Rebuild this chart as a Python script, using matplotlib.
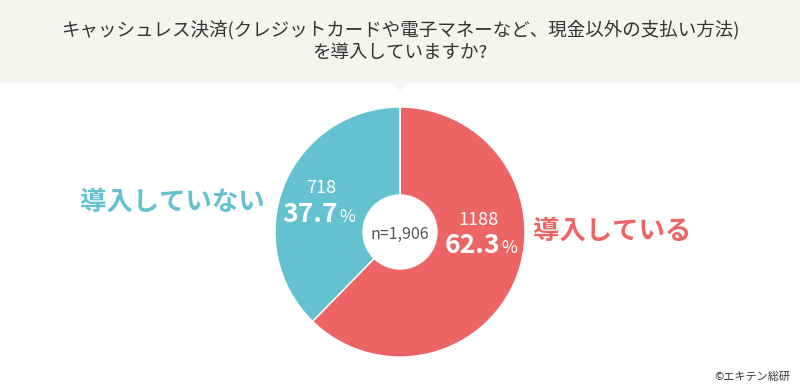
import matplotlib
matplotlib.use("Agg")
import matplotlib.pyplot as plt
from matplotlib.patches import Polygon, Rectangle, Circle

plt.rcParams['font.family'] = ['Noto Sans CJK JP', 'DejaVu Sans']

labels = ['導入している', '導入していない']
counts = [1188, 718]
shares = [62.3, 37.7]
colors = ['#ec6464', '#63c1d0']
total = 1906
title = 'キャッシュレス決済(クレジットカードや電子マネーなど、現金以外の支払い方法)\nを導入していますか?'

fig = plt.figure(figsize=(8, 3.86), dpi=100)
ax = fig.add_axes([0, 0, 1, 1])

# donut (y axis is flipped below, so angles run mirrored)
ax.pie(counts, colors=colors, startangle=-90, counterclock=True, center=(400, 232), radius=125,
       wedgeprops=dict(edgecolor='white', linewidth=1), frame=True)
ax.set_xlim(0, 800)
ax.set_ylim(386, 0)
ax.set_aspect('auto')
ax.axis('off')

# header band with small pointer
ax.add_patch(Rectangle((0, 0), 800, 82, color='#f5f4f1', zorder=0))
ax.add_patch(Polygon([(393, 82), (407, 82), (400, 90)], closed=True, color='#f5f4f1', zorder=0))
ax.text(400, 41, title, ha='center', va='center', fontsize=13.3, color='#333333', linespacing=1.35)

ax.add_patch(Circle((400, 232), 37, color='white', zorder=5))
ax.text(400, 234, f'n={total:,}', ha='center', va='center', fontsize=11.5, color='#555555', zorder=6)

# inside labels
ax.text(479, 220, str(counts[0]), ha='center', va='center', fontsize=13, color='white')
ax.text(500, 253, f'{shares[0]}', ha='right', va='baseline', fontsize=19, fontweight='bold', color='white')
ax.text(501, 253, '%', ha='left', va='baseline', fontsize=12.5, color='white')
ax.text(321, 188, str(counts[1]), ha='center', va='center', fontsize=13, color='white')
ax.text(338, 222, f'{shares[1]}', ha='right', va='baseline', fontsize=19, fontweight='bold', color='white')
ax.text(339, 222, '%', ha='left', va='baseline', fontsize=12.5, color='white')

# outside labels
ax.text(612, 231, labels[0], ha='center', va='center', fontsize=19, fontweight='bold', color=colors[0])
ax.text(172, 202, labels[1], ha='center', va='center', fontsize=19, fontweight='bold', color=colors[1])

ax.text(790, 377, '©エキテン総研', ha='right', va='center', fontsize=8, color='#333333')

fig.savefig('out.png', dpi=100)
